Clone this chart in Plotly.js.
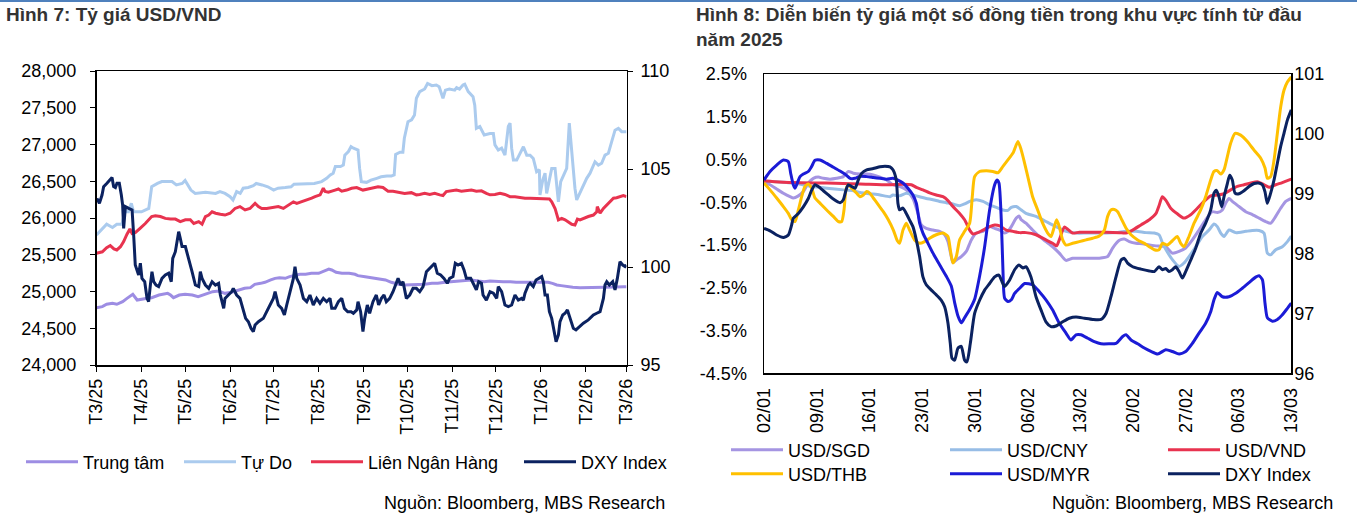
<!DOCTYPE html>
<html>
<head>
<meta charset="utf-8">
<script src="https://cdn.plot.ly/plotly-3.0.1.min.js"></script>
<style>html,body{margin:0;padding:0;background:#fff}#chart{width:1357px;height:530px}</style>
</head>
<body>
<div id="chart"></div>
<script>
// ---------- Hình 7: Tỷ giá USD/VND (x = days since 01/03/2025) ----------
const monthTickDays = [0,31,61,92,122,153,184,214,245,275,306,337,365];
const monthTickLabels = ['T3/25','T4/25','T5/25','T6/25','T7/25','T8/25','T9/25','T10/25','T11/25','T12/25','T1/26','T2/26','T3/26'];

const trungTamDays = [0,4,7,11,14,18,21,25,28,31,35,38,43,49,51,53,57,61,66,70,75,80,84,88.5,93,98,102,106,109,113,116,120,123,126,130,133,137,140,144,148,153,156,160,162,165,169,174,178,180,185,189,194,199,203,208,212,217,221,226,231,235,240,244,249,254,258,263,267,271,276,280,285,289,294,299,303,308,311,314,317,320,324,328,333,338,342,347,350,354,358,363,365];
const trungTamVals = [24780,24794,24826,24839,24826,24862,24907,24962,24884,24898,24907,24916,24952,24975,24952,24916,24952,24962,24952,24930,24962,24998,25007,24975,24989,25020,25043,25052,25098,25111,25125,25157,25179,25188,25179,25202,25225,25234,25234,25247,25247,25270,25306,25293,25261,25247,25247,25234,25216,25202,25188,25179,25157,25125,25098,25089,25089,25089,25098,25111,25111,25125,25134,25143,25157,25157,25143,25134,25143,25134,25134,25134,25125,25125,25125,25125,25125,25125,25111,25089,25080,25066,25057,25052,25052,25052,25052,25052,25057,25061,25066,25066];

const tuDoDays = [0,4,7,11,14,17.5,19.5,22,24,25.5,31,36,38,42,45,52,55,59,61,65,68,75,82,85,88.5,92,94,96.5,99,101,104.5,108,110,114,118,122,125,130,134,136,139,146,150,155,158.5,161,163,164.5,168,170,171,173.5,175.3,177,180.1,181.2,182.4,186,189,193,196,200,203,205,206,209,211,212,214.5,217,219,220.3,222.6,226,228,231,234,236,238.6,240.3,243,246.7,248,250,252.4,253.6,256,259.3,260.5,261.6,264,267,269.6,271,273.3,274.4,276.7,279,281.3,283.6,284.8,285.9,287.1,289.4,291.7,294,296.3,298.6,300.8,303.1,305,305.4,307.3,308.9,310,311.9,313.5,315.8,316.9,318.1,319.7,321.5,323.8,325.6,327.3,329.5,330.7,331.8,334.1,337.6,339.9,343.3,345.6,347.9,350.2,352.5,354.8,357.1,359.4,361.7,365];
const tuDoVals = [25770,25860,25915,25870,25915,25915,26085,26085,26200,26085,26085,26130,26425,26470,26495,26495,26450,26470,26510,26380,26335,26350,26335,26360,26335,26290,26245,26360,26335,26405,26415,26440,26470,26450,26425,26380,26405,26415,26425,26460,26460,26465,26470,26495,26540,26585,26610,26700,26700,26720,26855,26905,26970,26950,26925,26675,26495,26485,26515,26540,26560,26570,26570,26585,26865,26895,26895,27085,27310,27335,27400,27630,27720,27755,27830,27800,27810,27785,27630,27740,27755,27740,27775,27755,27810,27820,27720,27650,27535,27220,27245,27130,27150,27150,27150,26995,26925,26950,26855,27245,27290,26950,26790,26790,26880,26970,26855,26855,26810,26630,26655,26315,26515,26610,26335,26540,26675,26675,26495,26220,26495,26585,26675,27290,26855,26405,26245,26290,26405,26540,26610,26765,26720,26745,26855,26880,27040,27195,27220,27175,27175];

const lienNHDays = [0,4,7,9.5,12,14,16.5,18.7,21,23,24.5,26.7,30,33.6,38,40.5,44,47.4,51,54.3,57.7,61.2,64.6,67,70.4,72.7,75,77.3,79.6,82,85.3,88.5,92,95.4,98.8,102.3,105.7,109.2,111.5,113.8,117.2,120.6,125.2,128.7,132.1,135.6,137.9,141.3,144.8,148.2,150.5,154,156.2,157.4,159.7,162,164.3,166.6,168.9,172.3,175.7,179.2,183.5,187,190.4,193.9,197.3,200.8,204.2,207.7,212.2,216.8,220.3,222.6,226,229.5,232.9,236.4,238.6,240.9,244.4,247.8,251.3,254.7,258.2,261.6,265.1,268.5,271,274.4,277.9,281.3,284.8,288.2,291.7,295.1,298.6,302,305.4,308.9,311.9,313.5,315.8,318.1,320.4,322.7,325,327.3,329.5,331.2,333,335.3,338.7,342.2,344.5,344.9,346.8,349.1,351.4,353.7,356,358.2,360.5,362.8,365];
const lienNHVals = [25520,25540,25595,25625,25580,25565,25610,25680,25780,25850,25790,25800,25860,25925,26020,26030,26020,25995,25985,25985,25950,25975,25975,25925,25950,25915,26020,26040,26085,26065,26050,26040,26065,26130,26155,26110,26130,26200,26155,26130,26130,26140,26155,26130,26175,26220,26200,26220,26245,26270,26290,26315,26405,26360,26350,26360,26380,26395,26365,26380,26405,26415,26380,26395,26415,26425,26415,26365,26365,26350,26335,26345,26315,26320,26335,26320,26335,26315,26305,26360,26365,26380,26365,26370,26380,26365,26370,26335,26315,26320,26335,26320,26290,26290,26275,26270,26270,26270,26270,26270,26260,26220,26130,25975,25995,25975,25950,25915,25905,25985,25975,25995,26020,26040,26085,26155,26065,26130,26175,26230,26270,26275,26290,26305,26290];

const dxyDays = [0.3,2,3.8,4.9,7.2,9.5,10.7,11.8,13,14.1,15.7,17.1,18,18.7,19.9,22.2,24.5,25.6,26.7,29,30.2,31.3,33.2,34.8,35.9,37.1,38.2,39.4,41,42.8,45.1,47.4,49.7,51.5,52.5,54.3,56.6,57.7,58.9,61.2,63.5,65.8,68.1,70.4,71.5,72.7,75,77.3,79.6,81.9,84.1,85.3,87.6,88.5,90.8,93.1,94.2,96.5,98.8,101.1,102.7,104.6,106.4,108,109.2,111.5,114.9,117.2,119.5,121.8,123,124.1,125.2,127.5,129.4,131,133.3,135.6,136.7,137.9,140.2,142.5,144.8,147,149.3,151.6,153.9,156.2,158.5,160.8,162,164.3,166.6,168.9,170.7,173,175.3,176.9,179.2,180.1,181.9,183.5,184.7,186.5,188.1,190.4,192.7,194.3,196.2,198,199.6,201.9,204.2,205.8,207.7,209.5,211.1,213.4,215.7,218,220.3,222.6,224.9,227.2,229.5,231.8,232.9,234.7,237,239.3,241.6,243.2,245.5,247.1,249,251.3,253.1,254.7,257.7,260,261.6,263.2,265.1,266.2,268.5,271,273.3,275.6,276.7,279,281.3,283.6,285.9,288.2,290.5,292.8,294,295.1,297.4,298.6,300.8,302.7,304.3,306.6,307.7,308.9,310.5,311.9,313.5,315.1,316.5,318.1,319.2,321.1,322.7,324.3,326.1,328.4,330.2,332.5,335.3,338.7,342.2,344.5,346.8,349.1,350.2,351.4,353.2,355.5,357.1,358.7,360.5,362.4,364,365];
const dxyVals = [103.50,103.25,103.67,104.10,104.27,104.44,104.56,104.10,104.05,104.27,104.27,103.67,103.16,101.97,103.08,102.99,102.91,101.63,100.10,99.59,100.19,99.42,99.25,98.40,98.23,99.08,99.76,99.25,99.08,99.00,99.42,99.59,99.68,99.25,100.44,100.78,101.80,101.46,101.04,101.04,100.44,99.76,99.08,99.00,99.76,99.42,99.08,98.91,99.25,99.08,99.17,98.57,97.89,98.40,98.57,98.74,98.91,98.57,98.40,97.72,97.38,97.21,96.87,96.70,97.04,97.21,97.38,97.72,98.06,98.40,98.74,98.40,98.06,97.89,97.55,98.06,98.74,99.42,100.02,99.42,99.08,98.40,98.23,98.57,98.06,98.40,98.15,98.40,98.23,98.40,97.89,97.89,98.23,98.40,97.89,97.72,97.72,97.64,97.81,98.23,97.72,96.70,97.38,98.06,97.64,98.23,98.57,98.06,98.40,98.57,98.23,98.40,98.74,99.08,99.42,99.08,99.25,98.40,98.57,98.91,98.91,98.74,99.00,99.76,99.93,100.10,100.19,99.68,99.59,99.42,99.17,99.42,99.51,100.19,100.10,100.19,99.85,99.42,99.42,99.08,98.83,99.25,99.17,98.57,98.31,98.74,98.66,98.40,99.00,98.74,98.06,97.98,98.06,98.57,98.31,98.40,98.31,98.66,99.08,99.17,99.00,99.34,99.42,99.51,99.25,98.57,98.57,97.72,97.38,96.70,96.19,96.53,97.21,97.55,97.64,97.81,97.38,96.87,96.79,96.96,97.13,97.30,97.55,97.64,97.72,98.40,99.08,99.25,99.08,99.25,98.83,99.42,100.27,100.10,100.02,100.10];

// ---------- Hình 8 (x = days since 02/01) ----------
const weekTickDays = [0,7,14,21,28,35,42,49,56,63,70];
const weekTickLabels = ['02/01','09/01','16/01','23/01','30/01','06/02','13/02','20/02','27/02','06/03','13/03'];
const pctTickVals = [2.5,1.5,0.5,-0.5,-1.5,-2.5,-3.5,-4.5];
const pctTickLabels = ['2.5%','1.5%','0.5%','-0.5%','-1.5%','-2.5%','-3.5%','-4.5%'];

const sgdDays = [0,0.8,1.68,2.57,3.45,3.89,4.56,5.22,5.88,6.55,7.21,7.88,8.76,9.65,10.53,11.19,11.86,12.74,13.63,14.51,15.4,16.28,17.12,18,18.89,19.77,20.44,20.88,21.54,22.43,23.31,23.98,24.42,24.86,25.08,25.53,26.19,26.85,27.52,28.18,29.07,29.95,30.62,31.28,31.94,32.38,32.83,33.49,33.85,34.15,34.78,35.66,36.55,37.43,38.32,39.2,40.09,40.97,41.86,42.75,43.63,44.51,45.62,46.28,47.17,47.83,48.5,49.38,50.27,51.15,52.04,53.33,54.21,55.1,55.98,56.87,57.75,58.63,59.52,60.18,60.85,61.29,61.73,62.17,63.06,63.95,64.83,65.72,66.6,67.26,67.93,68.59,69.26,70];
const sgdVals = [-0.02,-0.09,-0.19,-0.29,-0.37,-0.40,-0.35,-0.25,-0.05,0.06,0.09,0.06,0.04,0.06,0.10,0.22,0.18,0.16,0.16,0.14,0.09,0.02,-0.09,-0.13,-0.21,-0.41,-0.76,-1.03,-1.11,-1.15,-1.18,-1.26,-1.42,-1.77,-1.91,-1.85,-1.77,-1.65,-1.38,-1.22,-1.18,-1.07,-1.11,-1.15,-1.22,-1.18,-1.07,-0.87,-0.82,-0.91,-0.99,-1.15,-1.30,-1.42,-1.54,-1.69,-1.86,-1.81,-1.81,-1.81,-1.81,-1.81,-1.77,-1.57,-1.39,-1.36,-1.42,-1.46,-1.47,-1.50,-1.52,-1.54,-1.69,-1.65,-1.57,-1.38,-1.15,-0.91,-0.72,-0.74,-0.68,-0.52,-0.41,-0.48,-0.60,-0.72,-0.79,-0.87,-0.95,-0.99,-0.83,-0.64,-0.48,-0.41];

const cnyDays = [0,1.68,3.89,6.1,8.32,10.53,11.86,12.74,14.07,15.4,16.73,17.12,18,18.89,19.77,20.66,21.54,22.43,23.31,24.2,25.08,25.97,26.63,27.3,28.18,29.07,29.95,30.84,31.72,32.38,32.83,33.49,34.15,34.78,36.11,37.43,38.76,40.09,41.42,42.75,44.07,45.4,46.73,48.05,49.38,50.71,51.81,52.44,52.92,53.33,54.21,55.1,55.76,56.42,57.31,58.19,59.08,59.74,60.18,60.63,61.07,61.73,62.62,63.95,64.83,65.72,66.38,66.82,67.26,67.93,68.81,69.48,70];
const cnyVals = [0,-0.02,-0.05,-0.12,-0.17,-0.21,-0.23,-0.27,-0.30,-0.33,-0.37,-0.33,-0.35,-0.29,-0.33,-0.37,-0.41,-0.44,-0.48,-0.51,-0.54,-0.58,-0.54,-0.48,-0.44,-0.48,-0.56,-0.62,-0.68,-0.69,-0.62,-0.60,-0.68,-0.76,-0.83,-0.95,-1.07,-1.18,-1.22,-1.22,-1.22,-1.22,-1.21,-1.18,-1.18,-1.21,-1.22,-1.26,-1.46,-1.60,-1.84,-2.00,-1.92,-1.77,-1.54,-1.30,-1.15,-1.01,-1.07,-1.22,-1.30,-1.15,-1.21,-1.18,-1.16,-1.16,-1.22,-1.69,-1.73,-1.61,-1.54,-1.42,-1.29];

const vndDays = [0,3.89,8.32,12.74,16.5,18.45,19.55,20.22,21.1,21.99,22.87,23.76,24.42,25.08,25.97,26.63,27.3,27.74,28.4,29.07,29.95,30.62,31.28,32.16,33.05,33.93,34.78,36.11,37.43,38.32,38.85,39.2,39.87,40.31,40.97,41.86,43.63,45.4,47.17,48.05,48.94,50.04,51.15,52.04,52.44,52.88,53.33,53.99,54.87,55.76,56.64,57.53,58.41,59.3,60.18,61.07,61.95,62.84,63.72,64.61,65.49,66.38,67.04,67.93,68.81,70];
const vndVals = [0,-0.04,-0.05,-0.07,-0.09,-0.08,-0.09,-0.15,-0.21,-0.28,-0.33,-0.37,-0.46,-0.60,-0.76,-0.91,-1.15,-1.24,-1.21,-1.15,-1.07,-1.03,-1.05,-1.15,-1.18,-1.21,-1.21,-1.26,-1.38,-1.46,-1.52,-1.38,-1.08,-1.13,-1.22,-1.20,-1.20,-1.20,-1.21,-1.22,-1.15,-1.03,-0.91,-0.76,-0.58,-0.37,-0.45,-0.64,-0.77,-0.87,-0.79,-0.64,-0.48,-0.35,-0.33,-0.30,-0.21,-0.13,-0.09,-0.05,-0.02,-0.09,-0.15,-0.09,-0.04,0.04];

const thbDays = [0,0.8,1.68,2.57,3.23,3.67,4.12,4.56,5,5.44,5.88,6.33,6.77,7.43,8.32,9.2,9.87,10.31,10.62,10.88,11.19,11.64,12.3,12.74,13.19,13.63,14.07,14.51,15.18,15.84,16.5,17.17,17.7,18,18.45,18.89,19.33,19.98,20.66,21.32,21.99,22.87,23.76,24.42,24.73,25.08,25.53,25.97,26.63,27.3,27.65,27.96,28.62,29.51,30.39,31.06,31.72,32.38,33.05,33.71,34.15,34.6,35.22,35.66,36.33,36.99,37.66,38.1,38.54,38.85,39.2,39.65,40.09,40.97,41.86,42.75,43.63,44.51,45.18,45.62,46.06,46.51,46.95,47.39,48.05,48.72,49.6,50.49,51.15,51.81,52.44,52.88,53.55,54.21,54.87,55.32,55.76,56.42,57.09,57.97,58.63,59.3,59.74,60.18,60.63,61.07,61.51,61.95,62.53,63.28,64.17,65.05,65.94,66.51,66.82,67.26,67.71,68.15,68.59,69.03,69.48,70];
const thbVals = [-0.05,-0.21,-0.40,-0.60,-0.76,-0.91,-0.95,-0.68,-0.37,-0.13,-0.07,-0.17,-0.40,-0.52,-0.68,-0.83,-0.95,-0.95,-0.68,-0.21,-0.09,-0.17,-0.29,-0.37,-0.33,-0.25,-0.29,-0.40,-0.56,-0.72,-0.91,-1.15,-1.40,-1.46,-1.15,-0.99,-1.15,-1.38,-1.46,-1.42,-1.34,-1.26,-1.22,-1.30,-1.61,-1.92,-1.77,-1.38,-1.18,-0.99,-0.37,0.10,0.22,0.24,0.22,0.19,0.34,0.49,0.65,0.92,0.72,0.41,-0.05,-0.37,-0.68,-0.99,-1.22,-1.30,-1.07,-0.91,-1.07,-1.38,-1.50,-1.46,-1.42,-1.38,-1.34,-1.29,-1.15,-0.83,-0.68,-0.67,-0.72,-0.87,-1.10,-1.26,-1.38,-1.46,-1.54,-1.61,-1.61,-1.46,-1.50,-1.40,-1.30,-1.46,-1.54,-1.30,-0.99,-0.68,-0.37,0.02,0.22,0.24,0.16,0.26,0.57,0.88,1.11,1.07,0.92,0.72,0.53,0.30,0.06,0.10,0.49,1.11,1.73,2.12,2.31,2.43];

const myrDays = [0,0.8,1.68,2.57,3.23,3.54,3.89,4.12,4.42,4.78,5.22,5.88,6.33,6.77,7.43,8.32,9.2,10.09,10.88,11.42,12.08,12.74,13.63,14.51,15.4,16.28,17.12,17.78,18.45,19.11,19.77,20.22,20.66,21.1,21.77,22.43,23.31,24.2,24.86,25.31,25.75,26.19,26.63,27.3,27.96,28.62,29.29,29.95,30.62,30.93,31.19,31.5,31.72,31.94,32.38,32.83,33.27,33.93,34.6,35.66,36.55,37.43,38.32,39.2,40.09,40.75,41.42,42.08,42.97,43.85,44.74,45.84,46.73,47.61,48.05,48.72,49.6,50.49,51.37,52.26,53.33,54.21,55.1,55.98,56.87,57.75,58.63,59.3,59.74,60.18,60.85,61.73,62.62,63.5,64.39,65.27,65.72,66.16,66.51,66.82,67.48,68.15,68.81,69.48,70];
const myrVals = [0.02,0.22,0.37,0.49,0.45,0.18,-0.09,-0.17,-0.05,0.10,0.16,0.22,0.34,0.48,0.49,0.41,0.32,0.23,0.14,0.06,0.06,0.11,0.10,0.08,0.06,0.04,0.06,0.02,-0.05,-0.17,-0.33,-0.52,-0.99,-1.22,-1.46,-1.69,-1.96,-2.23,-2.46,-2.85,-3.16,-3.32,-3.20,-3.01,-2.77,-2.23,-1.54,-0.68,-0.09,0.02,-0.05,-0.91,-2.08,-2.74,-2.82,-2.78,-2.63,-2.51,-2.40,-2.43,-2.59,-2.78,-3.02,-3.33,-3.56,-3.72,-3.60,-3.60,-3.68,-3.76,-3.81,-3.81,-3.80,-3.64,-3.60,-3.72,-3.81,-3.91,-3.99,-4.05,-3.95,-3.99,-4.05,-3.99,-3.80,-3.56,-3.33,-3.06,-2.78,-2.61,-2.71,-2.71,-2.63,-2.51,-2.38,-2.25,-2.22,-2.31,-2.86,-3.20,-3.28,-3.24,-3.13,-2.98,-2.86];

const dxy8Days = [0,0.8,1.68,2.57,3.23,3.67,3.89,4.56,5.22,5.88,6.33,6.77,7.21,7.88,8.54,9.2,10.09,10.53,10.88,11.19,11.64,12.08,12.52,12.96,13.63,14.51,15.4,16.06,16.73,17.12,17.56,17.78,18,18.45,18.89,19.33,19.77,20.22,20.66,21.1,21.54,22.21,22.87,23.54,23.98,24.42,24.73,24.96,25.31,25.75,26.19,26.63,26.94,27.39,27.96,28.62,29.29,29.95,30.62,31.19,31.5,31.94,32.61,33.27,33.85,34.38,34.78,35.44,36.11,36.77,37.43,38.1,38.76,39.65,40.53,41.42,42.52,43.63,44.74,45.4,46.06,46.73,47.39,47.83,48.27,48.94,50.04,51.15,51.81,52.44,52.88,53.33,53.77,54.21,54.65,55.1,55.54,55.98,56.64,57.31,57.97,58.63,59.3,59.74,60.05,60.4,60.76,61.07,61.51,61.82,62.17,62.53,63.06,63.72,64.39,65.05,65.63,66.16,66.51,66.82,67.26,67.71,68.15,68.59,69.03,69.48,70];
const dxy8Vals = [98.42,98.38,98.31,98.27,98.31,98.48,98.59,98.67,98.78,98.92,99.06,99.15,99.12,99.05,98.98,98.91,98.85,98.90,99.06,99.15,99.12,99.09,99.23,99.34,99.40,99.42,99.45,99.46,99.45,99.40,99.23,98.84,98.73,98.76,98.67,98.56,98.45,98.23,97.95,97.61,97.48,97.39,97.31,97.22,97.11,96.84,96.50,96.25,96.22,96.42,96.45,96.22,96.19,96.50,97.00,97.22,97.39,97.50,97.61,97.64,97.56,97.45,97.56,97.73,97.81,97.76,97.78,97.61,97.28,97.06,96.86,96.78,96.79,96.86,96.92,96.94,96.92,96.90,96.90,97.00,97.28,97.61,97.89,97.92,97.84,97.78,97.74,97.71,97.70,97.78,97.73,97.75,97.70,97.73,97.78,97.70,97.59,97.70,97.89,98.09,98.34,98.51,98.73,99.01,99.06,98.95,98.78,98.95,99.17,99.31,99.23,99.01,99.00,99.05,99.12,99.17,99.18,99.15,99.03,98.84,99.01,99.23,99.51,99.79,100.01,100.23,100.40];

// ---------- figure ----------
const FONT = 'Liberation Sans, Arial, sans-serif';
const W = 1357, H = 530;
const px = v => v / W, py = v => 1 - v / H;

function line(x, y, name, color, xa, ya, lg, shape) {
  return {type:'scatter', mode:'lines', x, y, name, xaxis:xa, yaxis:ya, legend:lg,
    line:{color, width:3, shape: shape || 'linear', smoothing: 0.6}, hoverinfo:'skip'};
}

const traces = [
  line(trungTamDays, trungTamVals, 'Trung tâm', '#9d8de3', 'x', 'y', 'legend'),
  line(tuDoDays, tuDoVals, 'Tự Do', '#abcbee', 'x', 'y', 'legend2'),
  line(lienNHDays, lienNHVals, 'Liên Ngân Hàng', '#e8334f', 'x', 'y', 'legend3'),
  line(dxyDays, dxyVals, 'DXY Index', '#0b2260', 'x', 'y2', 'legend4'),
  line(sgdDays, sgdVals, 'USD/SGD', '#a595e2', 'x2', 'y3', 'legend5', 'spline'),
  line(cnyDays, cnyVals, 'USD/CNY', '#97bde6', 'x2', 'y3', 'legend6', 'spline'),
  line(vndDays, vndVals, 'USD/VND', '#e8334f', 'x2', 'y3', 'legend7', 'spline'),
  line(thbDays, thbVals, 'USD/THB', '#ffc000', 'x2', 'y3', 'legend8', 'spline'),
  line(myrDays, myrVals, 'USD/MYR', '#1b1bd6', 'x2', 'y3', 'legend9', 'spline'),
  line(dxy8Days, dxy8Vals, 'DXY Index', '#0b2260', 'x2', 'y4', 'legend10', 'spline')
];

function lg(textX, textY) {
  return {x: px(textX - 64), y: py(textY), xanchor:'left', yanchor:'middle', orientation:'h',
    itemwidth:52, bgcolor:'rgba(0,0,0,0)', borderwidth:0, font:{family:FONT, size:18, color:'#000'}};
}

const tickFont = {family:FONT, size:18, color:'#000'};
const layout = {
  width:W, height:H, margin:{l:0,r:0,t:0,b:0}, paper_bgcolor:'#fff', plot_bgcolor:'#fff',
  showlegend:true, font:{family:FONT, color:'#000'},
  xaxis:{domain:[px(96.5), px(626.5)], anchor:'y', range:[0,365], tickmode:'array',
    tickvals:monthTickDays, ticktext:monthTickLabels, tickangle:-90, ticks:'outside', ticklen:5,
    tickcolor:'#000', showline:true, linecolor:'#000', linewidth:1.5, mirror:true,
    showgrid:false, zeroline:false, tickfont:tickFont},
  yaxis:{domain:[py(365), py(71)], anchor:'x', range:[24000,28000], tick0:24000, dtick:500,
    tickformat:',d', ticks:'outside', ticklen:5, tickcolor:'#000', showline:true, linecolor:'#000',
    linewidth:1.5, mirror:true, showgrid:false, zeroline:false, tickfont:tickFont, ticklabelstandoff:10},
  yaxis2:{overlaying:'y', side:'right', anchor:'x', range:[95,110], tick0:95, dtick:5,
    ticks:'outside', ticklen:5, tickcolor:'#000', showline:true, linecolor:'#000', linewidth:1.5,
    showgrid:false, zeroline:false, tickfont:tickFont, ticklabelstandoff:4},
  xaxis2:{domain:[px(764), px(1291.3)], anchor:'y3', range:[0,70], tickmode:'array',
    tickvals:weekTickDays, ticktext:weekTickLabels, tickangle:-90, ticks:'', showline:true,
    linecolor:'#000', linewidth:1.5, mirror:true, showgrid:false, zeroline:false, tickfont:tickFont,
    ticklabelstandoff:6},
  xaxis3:{overlaying:'x2', anchor:'free', position: py(74) - (py(74)-py(373.3)) * 2.5/7, side:'top',
    range:[0,70], tickmode:'array', tickvals:weekTickDays, ticks:'outside', ticklen:5, tickwidth:1.5,
    tickcolor:'#4f81bd', showticklabels:false, showline:true, linecolor:'#4f81bd', linewidth:1.5,
    showgrid:false, zeroline:false},
  yaxis3:{domain:[py(373.3), py(74)], anchor:'x2', range:[-4.5,2.5], tickmode:'array',
    tickvals:pctTickVals, ticktext:pctTickLabels, ticks:'', showline:true, linecolor:'#000',
    linewidth:1.5, mirror:true, showgrid:false, zeroline:false, tickfont:tickFont, ticklabelstandoff:12},
  yaxis4:{overlaying:'y3', side:'right', anchor:'x2', range:[96,101], tick0:96, dtick:1, ticks:'',
    showline:false, showgrid:false, zeroline:false, tickfont:tickFont, ticklabelstandoff:2},
  legend:lg(85,462), legend2:lg(243,462), legend3:lg(370,462), legend4:lg(583,462),
  legend5:lg(790,450), legend6:lg(1009,450), legend7:lg(1227,450),
  legend8:lg(790,474), legend9:lg(1009,474), legend10:lg(1227,474),
  shapes:[{type:'line', xref:'paper', yref:'paper', x0:0, x1:1, y0:py(1), y1:py(1),
    line:{color:'#4f81bd', width:2}}],
  annotations:[
    {xref:'paper', yref:'paper', x:px(4), y:py(2), xanchor:'left', yanchor:'top', showarrow:false,
      align:'left', text:'<b>Hình 7: Tỷ giá USD/VND</b>', font:{family:FONT, size:19, color:'#333'}},
    {xref:'paper', yref:'paper', x:px(694), y:py(2), xanchor:'left', yanchor:'top', showarrow:false,
      align:'left', text:'<b>Hình 8: Diễn biến tỷ giá một số đồng tiền trong khu vực tính từ đầu<br>năm 2025</b>',
      font:{family:FONT, size:19, color:'#333'}},
    {xref:'paper', yref:'paper', x:px(667), y:py(503), xanchor:'right', yanchor:'middle', showarrow:false,
      text:'Nguồn: Bloomberg, MBS Research', font:{family:FONT, size:18, color:'#000'}},
    {xref:'paper', yref:'paper', x:px(1335), y:py(503), xanchor:'right', yanchor:'middle', showarrow:false,
      text:'Nguồn: Bloomberg, MBS Research', font:{family:FONT, size:18, color:'#000'}}
  ]
};

Plotly.newPlot('chart', traces, layout, {staticPlot:true, displayModeBar:false});
</script>
</body>
</html>
